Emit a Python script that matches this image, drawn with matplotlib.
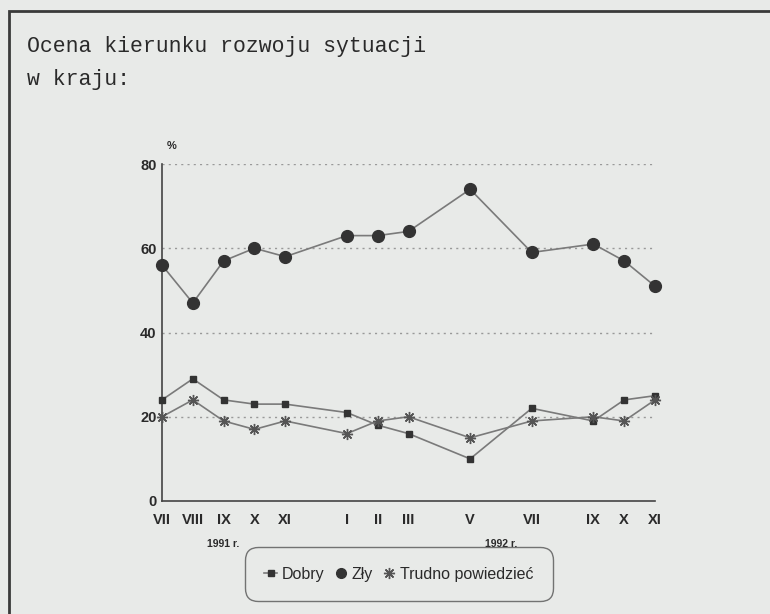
import matplotlib
matplotlib.use("Agg")
import matplotlib.pyplot as plt
from matplotlib.lines import Line2D
from matplotlib.patches import Rectangle

# Data
months = ["VII", "VIII", "IX", "X", "XI", "I", "II", "III", "V", "VII", "IX", "X", "XI"]
month_pos = [0, 1, 2, 3, 4, 6, 7, 8, 10, 12, 14, 15, 16]
dobry = [24, 29, 24, 23, 23, 21, 18, 16, 10, 22, 19, 24, 25]
zly = [56, 47, 57, 60, 58, 63, 63, 64, 74, 59, 61, 57, 51]
trudno = [20, 24, 19, 17, 19, 16, 19, 20, 15, 19, 20, 19, 24]
series_names = ["Dobry", "Zły", "Trudno powiedzieć"]
yticks = [0, 20, 40, 60, 80]

bg = "#e8eae8"
line_c = "#7a7a7a"
mark_c = "#333333"

W, H = 770, 614
fig = plt.figure(figsize=(W / 100, H / 100), dpi=100, facecolor=bg)

# outer frame
fig.patches.append(Rectangle((9 / W, -0.1), 1.2, 1 - 11 / H + 0.1, transform=fig.transFigure,
                             fill=False, edgecolor="#3a3a3a", linewidth=2.0))

fig.text(27 / W, 1 - 63 / H, "Ocena kierunku rozwoju sytuacji\nw kraju:",
         family="Liberation Mono", fontsize=15.5, color="#2a2a2a",
         va="center", ha="left", linespacing=1.7)

ax = fig.add_axes([162 / W, 1 - 501 / H, (655 - 162) / W, (501 - 164) / H])
ax.set_facecolor(bg)
ax.set_xlim(0, 16)
ax.set_ylim(0, 80)
for s in ["top", "right"]:
    ax.spines[s].set_visible(False)
for s in ["left", "bottom"]:
    ax.spines[s].set_color("#444444")
    ax.spines[s].set_linewidth(1.2)
ax.tick_params(length=0)
ax.set_yticks(yticks)
ax.set_yticklabels([str(v) for v in yticks], fontsize=10.5, fontweight="bold",
                   family="Liberation Sans", color="#2a2a2a")
ax.set_xticks(month_pos)
ax.set_xticklabels(months, fontsize=10.5, fontweight="bold", family="Liberation Sans",
                   color="#2a2a2a")
ax.tick_params(axis="x", pad=9)
ax.tick_params(axis="y", pad=4)
for v in yticks[1:]:
    ax.axhline(v, color="#999999", linestyle=(0, (1.5, 3)), linewidth=1.0, zorder=1)

ax.plot(month_pos, zly, color=line_c, linewidth=1.2, marker="o", markersize=8.5,
        markerfacecolor=mark_c, markeredgecolor=mark_c, zorder=3, clip_on=False)
ax.plot(month_pos, dobry, color=line_c, linewidth=1.2, marker="s", markersize=5,
        markerfacecolor=mark_c, markeredgecolor=mark_c, zorder=3, clip_on=False)
ax.plot(month_pos, trudno, color=line_c, linewidth=1.2, marker=(8, 2, 0), markersize=8,
        markerfacecolor=mark_c, markeredgecolor="#555555", markeredgewidth=1.0,
        zorder=3, clip_on=False)

ax.text(0.3, 83, "%", fontsize=8, fontweight="bold", family="Liberation Sans",
        color="#2a2a2a", ha="center", va="bottom", clip_on=False)
ax.text(2.0, -10.2, "1991 r.", fontsize=7.5, fontweight="bold", family="Liberation Sans",
        color="#2a2a2a", ha="center", va="center", clip_on=False)
ax.text(11.0, -10.2, "1992 r.", fontsize=7.5, fontweight="bold", family="Liberation Sans",
        color="#2a2a2a", ha="center", va="center", clip_on=False)

handles = [
    Line2D([], [], color=line_c, linewidth=1.2, marker="s", markersize=5,
           markerfacecolor=mark_c, markeredgecolor=mark_c),
    Line2D([], [], color=line_c, linewidth=0, marker="o", markersize=7,
           markerfacecolor=mark_c, markeredgecolor=mark_c),
    Line2D([], [], color=line_c, linewidth=0, marker=(8, 2, 0), markersize=8,
           markeredgecolor="#555555"),
]
leg = fig.legend(handles, series_names, loc="center", bbox_to_anchor=(399 / W, 1 - 574 / H),
                 ncol=3, frameon=True, fancybox=True, handlelength=0.8, handletextpad=0.3,
                 columnspacing=0.6, borderpad=1.0,
                 prop={"family": "Liberation Sans", "size": 11.5})
fr = leg.get_frame()
fr.set_facecolor(bg)
fr.set_edgecolor("#555555")
fr.set_linewidth(1.0)
fr.set_boxstyle("round", pad=0.2, rounding_size=0.8)
for t in leg.get_texts():
    t.set_color("#2a2a2a")

fig.savefig("out.png", dpi=100, facecolor=bg)
